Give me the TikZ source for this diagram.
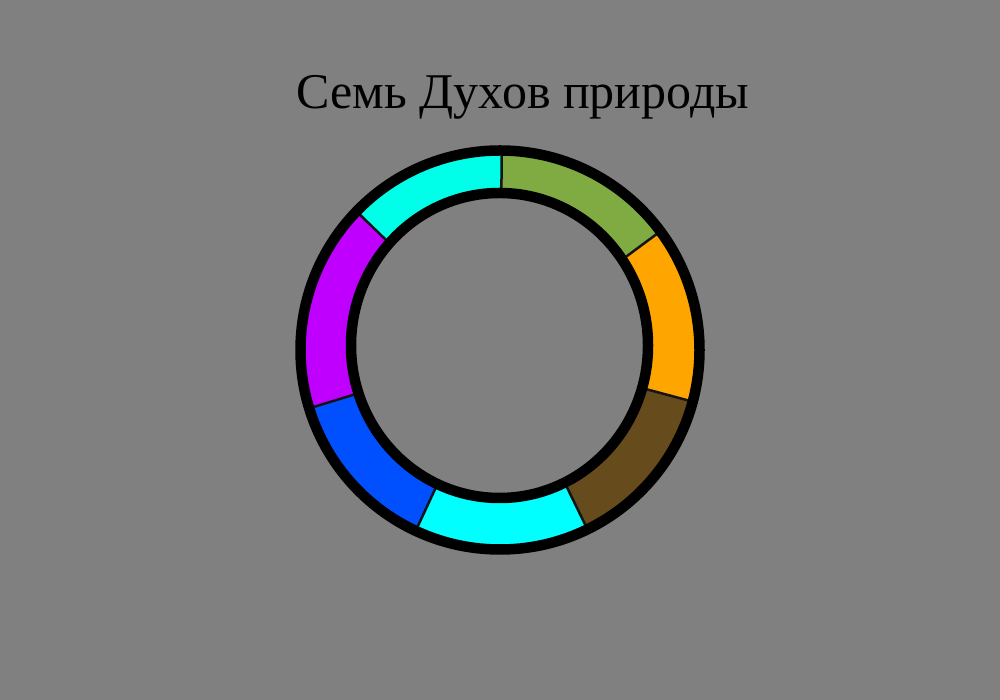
\documentclass[tikz,border=0pt]{standalone}
\usepackage{fontspec}
\setmainfont{Liberation Serif}
\definecolor{bg}{RGB}{128,128,128}
\definecolor{cyanA}{RGB}{0,255,232}
\definecolor{greenA}{RGB}{128,171,67}
\definecolor{orangeA}{RGB}{255,165,0}
\definecolor{brownA}{RGB}{102,76,28}
\definecolor{cyanB}{RGB}{0,255,255}
\definecolor{blueA}{RGB}{0,80,255}
\definecolor{purpleA}{RGB}{192,0,255}
\definecolor{seam}{RGB}{20,20,20}
\tikzset{
  seg/.style={fill=#1},
  seamline/.style={draw=seam,line width=2.5pt},
  ringline/.style={draw=black,line width=10.5pt}
}
\begin{document}
\begin{tikzpicture}[x=1pt,y=1pt]
\useasboundingbox[fill=bg] (0,0) rectangle (1000,700);
\coordinate (c) at (500,350);
% segments
\foreach \a/\b/\col in {36.5/89.5/greenA, 89.5/136/cyanA, 136/197/purpleA, 197/245/blueA, 245/296/cyanB, 296/345/brownA, 345/396.5/orangeA}{
  \fill[seg=\col] (c) -- ++(\a:200) arc[start angle=\a, end angle=\b, radius=200] -- cycle;
}
% seams
\foreach \a in {36.5,89.5,136,197,245,296,345}{
  \draw[seamline] (c) -- ++(\a:198);
}
% inner hole
\fill[bg] (499.5,354.5) ellipse[x radius=148.5, y radius=152.5];
% rings
\draw[ringline] (c) circle[radius=199.5];
\draw[ringline] (499.5,354.5) ellipse[x radius=148.5, y radius=152.5];
% title
\node[anchor=base, font=\fontsize{50}{58}\selectfont, text=black, inner sep=0pt] (title) at (523,591) {Семь Духов природы};
\end{tikzpicture}
\end{document}
